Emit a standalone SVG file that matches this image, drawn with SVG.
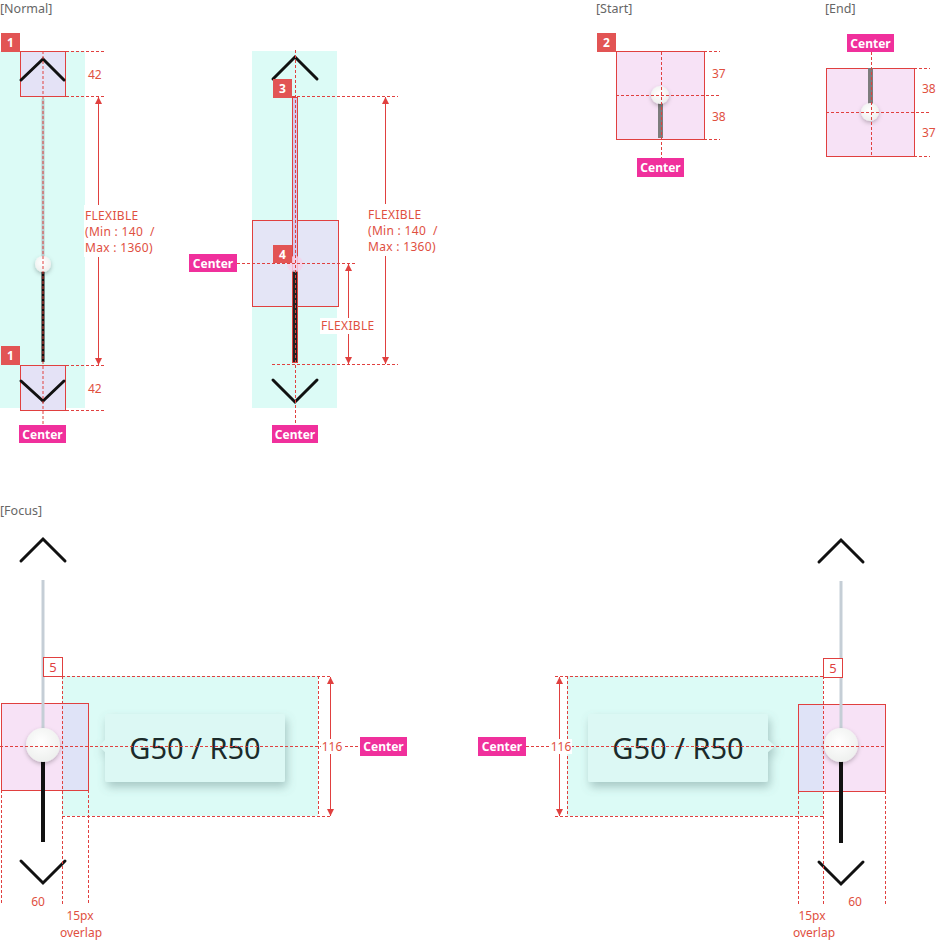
<svg xmlns="http://www.w3.org/2000/svg" width="936" height="941" viewBox="0 0 936 941">
<style>
.t{font-family:"Noto Sans","Liberation Sans",sans-serif}
.title{font-family:"Noto Sans","Liberation Sans",sans-serif;font-size:12.5px;fill:#666}
.dim{font-family:"Noto Sans","Liberation Sans",sans-serif;font-size:12px;fill:#e0503f}
.dl{stroke:#e0403f;stroke-width:1;stroke-dasharray:3 2;fill:none}
.sl{stroke:#e0403f;stroke-width:1;fill:none}
.box{stroke:#e0403f;stroke-width:1}
.lav{fill:#e4e2f6}
.pink{fill:#f7e2f6}
.cyan{fill:#dcfbf6}
.chev{stroke:#111;stroke-width:3;fill:none;stroke-linecap:round;stroke-linejoin:miter}
.badge{fill:#e25454}
.btxt{font-family:"Noto Sans","Liberation Sans",sans-serif;font-size:12px;fill:#fff;font-weight:bold;text-anchor:middle}
.ctr{fill:#f0309c}
.ctxt{font-family:"Noto Sans","Liberation Sans",sans-serif;font-size:12px;fill:#fff;font-weight:bold;text-anchor:middle}
</style>
<defs>
<marker id="aS" viewBox="0 0 8 8" refX="8" refY="4" markerWidth="7" markerHeight="7" orient="auto-start-reverse" markerUnits="userSpaceOnUse">
<path d="M0,0 L8,4 L0,8 Z" fill="#e0403f"/>
</marker>
<filter id="sh" x="-50%" y="-50%" width="200%" height="200%">
<feDropShadow dx="0" dy="2" stdDeviation="2" flood-color="#000" flood-opacity="0.25"/>
</filter>
<filter id="tsh" x="-20%" y="-30%" width="140%" height="170%">
<feDropShadow dx="2" dy="5" stdDeviation="5" flood-color="#5a7a7a" flood-opacity="0.4"/>
</filter>
<radialGradient id="th" cx="0.45" cy="0.4" r="0.6">
<stop offset="0" stop-color="#ffffff"/>
<stop offset="1" stop-color="#eef0ee"/>
</radialGradient>
</defs>

<!-- Titles -->
<text class="title" x="0" y="13">[Normal]</text>
<text class="title" x="596" y="13">[Start]</text>
<text class="title" x="825" y="13">[End]</text>
<text class="title" x="0" y="515">[Focus]</text>

<!-- Normal column 1 -->
<g id="normal1">
<rect class="cyan" x="0" y="51" width="85" height="357"/>
<rect class="lav box" x="20.5" y="51.5" width="45" height="45"/>
<rect class="lav box" x="20.5" y="365.5" width="45" height="45"/>
<line x1="43" y1="99" x2="43" y2="258" stroke="#b9cbcd" stroke-width="3"/>
<line x1="43" y1="270" x2="43" y2="362" stroke="#111" stroke-width="3"/>
<circle cx="43" cy="264" r="8" fill="url(#th)" filter="url(#sh)"/>
<polyline class="chev" points="21,80 43,59 64,80"/>
<polyline class="chev" points="21,381 43,401 64,381"/>
<rect class="badge" x="1" y="33" width="19" height="19"/>
<text class="btxt" x="10.5" y="47">1</text>
<rect class="badge" x="1" y="346" width="19" height="19"/>
<text class="btxt" x="10.5" y="360">1</text>
</g>

<!-- Normal column 2 -->
<g id="normal2">
<rect class="cyan" x="252" y="51" width="85" height="357"/>
<rect class="lav box" x="252.5" y="220.5" width="86" height="86" fill-opacity="0.9"/>
<rect x="292.5" y="97.5" width="5" height="265" fill="#d4c8ec" stroke="#e0403f" stroke-width="1"/>
<rect x="293" y="270" width="4" height="92" fill="#222"/>
<circle cx="295" cy="264" r="8" fill="#f6d2ea" opacity="0.85"/>
<polyline class="chev" points="273,79 295,57 317,79"/>
<polyline class="chev" points="273,380 295,402 317,380"/>
<rect class="badge" x="273" y="79" width="19" height="19"/>
<text class="btxt" x="282.5" y="93">3</text>
<rect class="badge" x="273" y="245" width="19" height="18"/>
<text class="btxt" x="282.5" y="259">4</text>
</g>

<!-- Start -->
<g id="start">
<rect class="pink box" x="616.5" y="51.5" width="88" height="88"/>
<rect x="658" y="95" width="5" height="43" fill="#7d7d7d"/>
<circle cx="660" cy="95" r="9" fill="url(#th)" filter="url(#sh)"/>
<rect class="badge" x="597" y="33" width="19" height="19"/>
<text class="btxt" x="606.5" y="47">2</text>
</g>

<!-- End -->
<g id="end">
<rect class="pink box" x="826.5" y="68.5" width="88" height="88"/>
<rect x="868" y="68" width="5" height="44" fill="#7d7d7d"/>
<circle cx="870" cy="112" r="9" fill="url(#th)" filter="url(#sh)"/>
</g>

<!-- Focus left -->
<g id="focusLeft">
<rect class="cyan" x="62" y="676" width="256" height="140"/>
<rect class="pink" x="1" y="703" width="61" height="87"/>
<rect x="62" y="703" width="26" height="87" fill="#dfe3f7"/>
<rect x="1.5" y="703.5" width="87" height="87" class="sl"/>
<line x1="43" y1="580" x2="43" y2="730" stroke="#c5ced6" stroke-width="3"/>
<line x1="43" y1="760" x2="43" y2="842" stroke="#111" stroke-width="4"/>
<circle cx="43" cy="745" r="17" fill="url(#th)" filter="url(#sh)"/>
<polyline class="chev" points="21,561 43,539 65,561"/>
<polyline class="chev" points="21,861 43,883 65,861"/>
<g filter="url(#tsh)">
<path d="M107,714 H283 Q285,714 285,716 V780 Q285,782 283,782 H107 Q105,782 105,780 V752 L99,746 L105,740 V716 Q105,714 107,714 Z" fill="#dcf8f4"/>
</g>
<text class="t" x="195" y="759" font-size="29" fill="#1b2b2b" text-anchor="middle">G50 / R50</text>
<rect x="43.5" y="657.5" width="19" height="19" fill="#fff" stroke="#e0403f"/>
<text class="t" x="53" y="672" font-size="13" fill="#e0403f" text-anchor="middle">5</text>
</g>

<!-- Focus right -->
<g id="focusRight">
<rect class="cyan" x="567" y="676" width="256" height="140"/>
<rect class="pink" x="823" y="704" width="62" height="87"/>
<rect x="798" y="704" width="25" height="87" fill="#dfe3f7"/>
<rect x="798.5" y="704.5" width="87" height="87" class="sl"/>
<line x1="841" y1="581" x2="841" y2="730" stroke="#c5ced6" stroke-width="3"/>
<line x1="841" y1="760" x2="841" y2="843" stroke="#111" stroke-width="4"/>
<circle cx="841" cy="745" r="17" fill="url(#th)" filter="url(#sh)"/>
<polyline class="chev" points="819,562 841,540 863,562"/>
<polyline class="chev" points="819,862 841,884 863,862"/>
<g filter="url(#tsh)">
<path d="M590,714 H766 Q768,714 768,716 V740 L775,746 L768,752 V780 Q768,782 766,782 H590 Q588,782 588,780 V716 Q588,714 590,714 Z" fill="#dcf8f4"/>
</g>
<text class="t" x="678" y="759" font-size="29" fill="#1b2b2b" text-anchor="middle">G50 / R50</text>
<rect x="823.5" y="658.5" width="19" height="19" fill="#fff" stroke="#e0403f"/>
<text class="t" x="833" y="673" font-size="13" fill="#e0403f" text-anchor="middle">5</text>
</g>

<!-- Connectors / dimension lines -->
<g id="connectors">
<!-- normal 1 -->
<line class="dl" x1="43" y1="51" x2="43" y2="425"/>
<line class="dl" x1="66" y1="51.5" x2="104" y2="51.5"/>
<line class="dl" x1="66" y1="96.5" x2="104" y2="96.5"/>
<line class="dl" x1="66" y1="365.5" x2="104" y2="365.5"/>
<line class="dl" x1="66" y1="410.5" x2="104" y2="410.5"/>
<line class="sl" x1="98.5" y1="97" x2="98.5" y2="365" marker-start="url(#aS)" marker-end="url(#aS)"/>
<!-- normal 2 -->
<line class="dl" x1="295.5" y1="50" x2="295.5" y2="425"/>
<line class="dl" x1="292" y1="96.5" x2="398" y2="96.5"/>
<line class="dl" x1="272" y1="364.5" x2="398" y2="364.5"/>
<line class="dl" x1="237" y1="263.5" x2="356" y2="263.5"/>
<line class="sl" x1="385.5" y1="97" x2="385.5" y2="364" marker-start="url(#aS)" marker-end="url(#aS)"/>
<line class="sl" x1="348.5" y1="264" x2="348.5" y2="364" marker-start="url(#aS)" marker-end="url(#aS)"/>
<!-- start -->
<line class="dl" x1="661.5" y1="52" x2="661.5" y2="158"/>
<line class="dl" x1="616" y1="95.5" x2="720" y2="95.5"/>
<line class="dl" x1="704" y1="51.5" x2="720" y2="51.5"/>
<line class="dl" x1="704" y1="139.5" x2="720" y2="139.5"/>
<!-- end -->
<line class="dl" x1="871.5" y1="52" x2="871.5" y2="157"/>
<line class="dl" x1="826" y1="112.5" x2="930" y2="112.5"/>
<line class="dl" x1="914" y1="68.5" x2="930" y2="68.5"/>
<line class="dl" x1="914" y1="156.5" x2="930" y2="156.5"/>
<!-- focus left -->
<line class="dl" x1="62" y1="676.5" x2="331" y2="676.5"/>
<line class="dl" x1="62" y1="816.5" x2="331" y2="816.5"/>
<line class="dl" x1="318.5" y1="676" x2="318.5" y2="816"/>
<line class="dl" x1="62.5" y1="676" x2="62.5" y2="905"/>
<line class="dl" x1="1.5" y1="790" x2="1.5" y2="905"/>
<line class="dl" x1="88.5" y1="790" x2="88.5" y2="905"/>
<line class="dl" x1="0" y1="746.5" x2="360" y2="746.5"/>
<line class="sl" x1="330.5" y1="677" x2="330.5" y2="816" marker-start="url(#aS)" marker-end="url(#aS)"/>
<!-- focus right -->
<line class="dl" x1="555" y1="676.5" x2="823" y2="676.5"/>
<line class="dl" x1="555" y1="816.5" x2="823" y2="816.5"/>
<line class="dl" x1="567.5" y1="676" x2="567.5" y2="816"/>
<line class="dl" x1="823.5" y1="676" x2="823.5" y2="905"/>
<line class="dl" x1="798.5" y1="791" x2="798.5" y2="905"/>
<line class="dl" x1="885.5" y1="791" x2="885.5" y2="905"/>
<line class="dl" x1="526" y1="746.5" x2="885" y2="746.5"/>
<line class="sl" x1="559.5" y1="677" x2="559.5" y2="816" marker-start="url(#aS)" marker-end="url(#aS)"/>
</g>

<!-- Labels -->
<g id="labels">
<text class="dim" x="88" y="79">42</text>
<text class="dim" x="88" y="393">42</text>
<rect x="84" y="205" width="74" height="52" fill="#fff"/>
<text class="dim" x="85" y="220" letter-spacing="0.3">FLEXIBLE</text>
<text class="dim" x="85" y="236" letter-spacing="0.3" xml:space="preserve">(Min : 140  /</text>
<text class="dim" x="85" y="252" letter-spacing="0.3">Max : 1360)</text>

<rect x="366" y="204" width="74" height="52" fill="#fff"/>
<text class="dim" x="368" y="219" letter-spacing="0.3">FLEXIBLE</text>
<text class="dim" x="368" y="235" letter-spacing="0.3" xml:space="preserve">(Min : 140  /</text>
<text class="dim" x="368" y="251" letter-spacing="0.3">Max : 1360)</text>
<rect x="320" y="318" width="54" height="16" fill="#fff"/>
<text class="dim" x="321" y="330" letter-spacing="0.3">FLEXIBLE</text>

<text class="dim" x="712" y="78">37</text>
<text class="dim" x="712" y="121">38</text>
<text class="dim" x="922" y="93">38</text>
<text class="dim" x="922" y="137">37</text>

<rect x="321" y="739" width="22" height="15" fill="#fff"/>
<text class="dim" x="332" y="751" text-anchor="middle">116</text>
<rect x="550" y="739" width="22" height="15" fill="#fff"/>
<text class="dim" x="561" y="751" text-anchor="middle">116</text>
<text class="dim" x="38" y="906" text-anchor="middle">60</text>
<text class="dim" x="80" y="920" text-anchor="middle">15px</text>
<text class="dim" x="81" y="937" text-anchor="middle">overlap</text>
<text class="dim" x="855" y="906" text-anchor="middle">60</text>
<text class="dim" x="812" y="920" text-anchor="middle">15px</text>
<text class="dim" x="814" y="937" text-anchor="middle">overlap</text>

<rect class="ctr" x="19" y="425" width="47" height="18"/>
<text class="ctxt" x="42.5" y="439">Center</text>
<rect class="ctr" x="272" y="425" width="46" height="18"/>
<text class="ctxt" x="295" y="439">Center</text>
<rect class="ctr" x="189" y="254" width="48" height="18"/>
<text class="ctxt" x="213" y="268">Center</text>
<rect class="ctr" x="637" y="158" width="47" height="19"/>
<text class="ctxt" x="660.5" y="172">Center</text>
<rect class="ctr" x="847" y="34" width="47" height="18"/>
<text class="ctxt" x="870.5" y="48">Center</text>
<rect class="ctr" x="360" y="737" width="47" height="19"/>
<text class="ctxt" x="383.5" y="751">Center</text>
<rect class="ctr" x="478" y="737" width="48" height="19"/>
<text class="ctxt" x="502" y="751">Center</text>
</g>
</svg>
